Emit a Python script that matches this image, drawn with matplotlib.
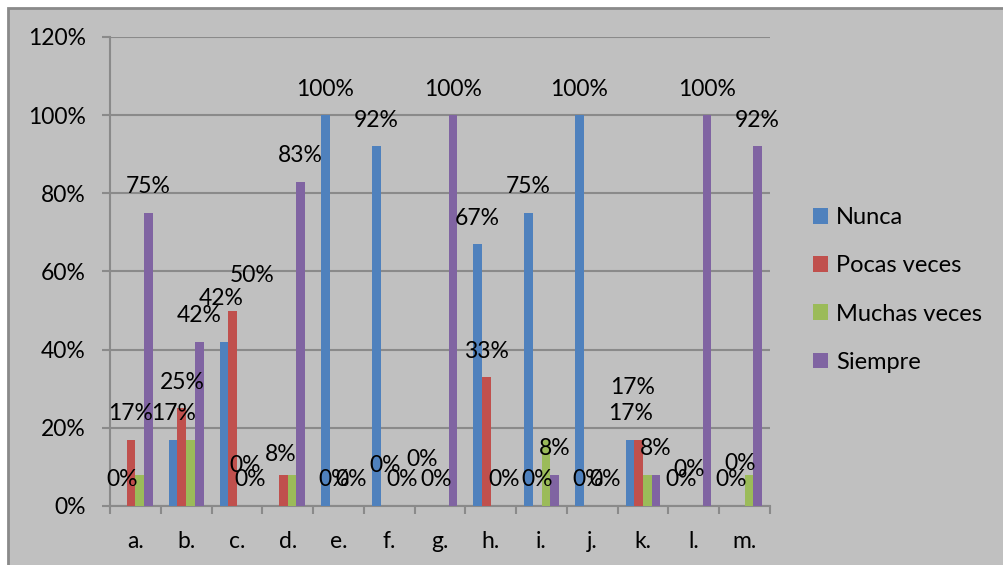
import numpy as np
import matplotlib
matplotlib.use('Agg')
import matplotlib.pyplot as plt
from matplotlib.patches import Rectangle
from matplotlib.ticker import FixedLocator, PercentFormatter

plt.rcParams['font.family'] = ['Lato', 'DejaVu Sans']

categories = ['a.', 'b.', 'c.', 'd.', 'e.', 'f.', 'g.', 'h.', 'i.', 'j.', 'k.', 'l.', 'm.']
series = ['Nunca', 'Pocas veces', 'Muchas veces', 'Siempre']
nunca   = [0.00, 0.17, 0.42, 0.00, 1.00, 0.92, 0.00, 0.67, 0.75, 1.00, 0.17, 0.00, 0.00]
pocas   = [0.17, 0.25, 0.50, 0.08, 0.00, 0.00, 0.00, 0.33, 0.00, 0.00, 0.17, 0.00, 0.00]
muchas  = [0.08, 0.17, 0.00, 0.08, 0.00, 0.00, 0.00, 0.00, 0.17, 0.00, 0.08, 0.00, 0.08]
siempre = [0.75, 0.42, 0.00, 0.83, 0.00, 0.00, 1.00, 0.00, 0.08, 0.00, 0.08, 1.00, 0.92]
values = [nunca, pocas, muchas, siempre]

# which data labels are shown in the original (per series)
show_nunca   = [1, 1, 1, 0, 1, 1, 1, 1, 1, 1, 1, 1, 1]
show_pocas   = [1] * 13
show_muchas  = [0, 0, 1, 0, 0, 0, 0, 0, 0, 0, 0, 0, 0]
show_siempre = [1] * 13
shown = [show_nunca, show_pocas, show_muchas, show_siempre]

colors = ['#4F81BD', '#C0504D', '#9BBB59', '#8064A2']

# labels that were dragged away from their default spot: (cat, series) -> (dx, dy) pixels
nudges = {(2, 0): (-3, 17), (2, 1): (20, 9), (2, 2): (4, 15), (3, 1): (-3, -6),
          (5, 1): (0, 15), (6, 0): (-5, 20), (10, 1): (-6, 26), (11, 1): (0, 10),
          (12, 1): (0, 16)}

fig = plt.figure(figsize=(10.04, 5.65), dpi=100, facecolor='white')
bg = Rectangle((8 / 1004, -0.1), 1.2, (565 - 8) / 565 + 0.1,
               transform=fig.transFigure, facecolor='#C0C0C0',
               edgecolor='#8A8A8A', linewidth=2, zorder=-10)
fig.patches.append(bg)

ax = fig.add_axes([110 / 1004, 59 / 565, 660 / 1004, 469 / 565])
ax.set_zorder(5)
ax.set_facecolor('none')

x = np.arange(len(categories))
w = 0.171
for i, (name, vals, col) in enumerate(zip(series, values, colors)):
    pos = x + (i - 1.5) * w
    ax.bar(pos, vals, width=w, color=col, label=name, zorder=3)
    for j, v in enumerate(vals):
        if not shown[i][j]:
            continue
        dx, dy = nudges.get((j, i), (0, 0))
        ax.annotate(f'{round(v * 100)}%', (pos[j], v), xytext=(dx, 26 + dy),
                    textcoords='offset pixels', ha='center', va='center',
                    fontsize=16.5, color='black', zorder=5, annotation_clip=False)

ax.set_xlim(-0.5, len(categories) - 0.5)
ax.set_ylim(0, 1.2)
ax.yaxis.set_major_locator(FixedLocator(np.arange(0, 1.21, 0.2)))
ax.yaxis.set_major_formatter(PercentFormatter(1.0, decimals=0))
ax.grid(axis='y', color='#8A8A8A', linewidth=1.5, zorder=1)
ax.set_axisbelow(True)
ax.set_xticks(x)
ax.set_xticklabels(categories)
ax.set_xticks(np.arange(-0.5, len(categories)), minor=True)
ax.tick_params(axis='x', which='major', length=0, pad=18, labelsize=16.5)
ax.tick_params(axis='x', which='minor', length=6, width=1.5, color='#8A8A8A')
ax.tick_params(axis='y', length=6, width=1.5, color='#8A8A8A', pad=11.5, labelsize=16.5)
for s in ['top', 'right']:
    ax.spines[s].set_visible(False)
for s in ['left', 'bottom']:
    ax.spines[s].set_color('#8A8A8A')
    ax.spines[s].set_linewidth(1.5)

ax.legend(loc='center left', bbox_to_anchor=(813 / 1004, (565 - 290) / 565),
          bbox_transform=fig.transFigure, frameon=False, fontsize=17,
          borderaxespad=0, borderpad=0,
          handlelength=0.64, handleheight=0.64, handletextpad=0.35, labelspacing=1.15)

fig.savefig('out.png', dpi=100, facecolor='white')
